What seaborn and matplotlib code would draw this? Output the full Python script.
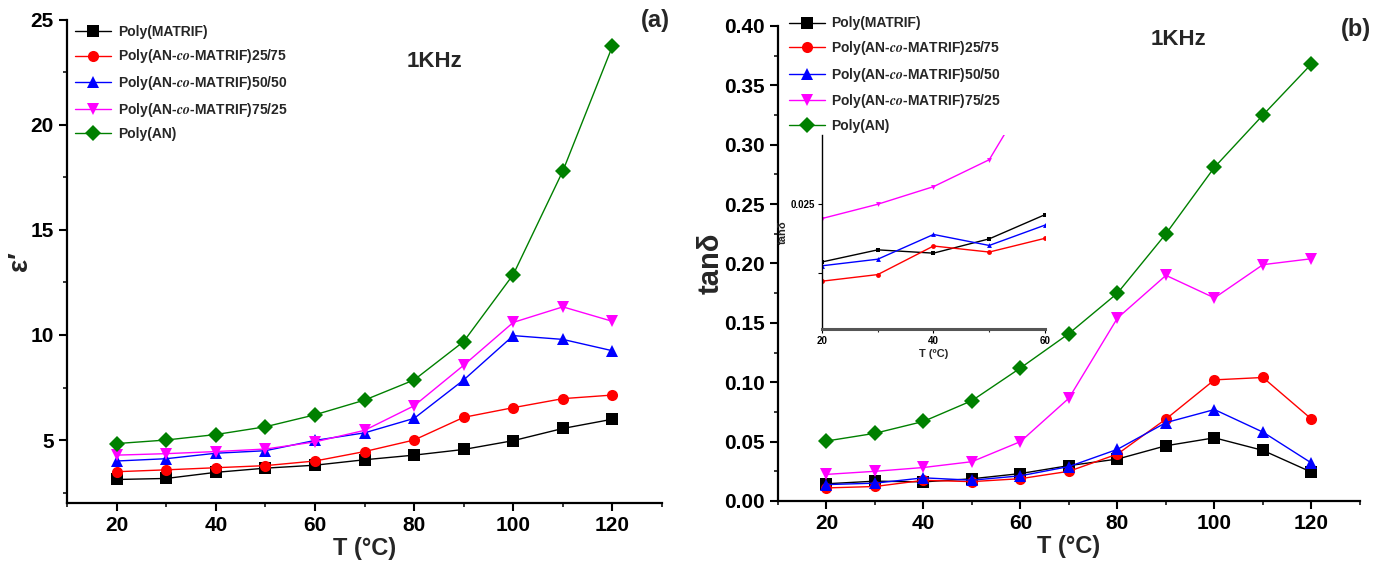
import numpy as np
import pandas as pd
import seaborn as sns
import matplotlib.pyplot as plt
from matplotlib.ticker import MultipleLocator

temps = [20, 30, 40, 50, 60, 70, 80, 90, 100, 110, 120]

names = [
    "Poly(MATRIF)",
    r"Poly(AN-$\mathit{co}$-MATRIF)25/75",
    r"Poly(AN-$\mathit{co}$-MATRIF)50/50",
    r"Poly(AN-$\mathit{co}$-MATRIF)75/25",
    "Poly(AN)",
]
colors = ["black", "#ff0000", "#0000ff", "#ff00ff", "#008000"]
markers = ["s", "o", "^", "v", "D"]

# dielectric constant at 1 kHz
eps_matrif = [3.12, 3.17, 3.46, 3.66, 3.80, 4.06, 4.28, 4.55, 4.97, 5.55, 5.99]
eps_2575 = [3.49, 3.58, 3.68, 3.78, 4.00, 4.45, 5.00, 6.08, 6.54, 6.97, 7.14]
eps_5050 = [4.00, 4.11, 4.37, 4.49, 4.98, 5.34, 6.03, 7.86, 9.97, 9.79, 9.25]
eps_7525 = [4.28, 4.35, 4.45, 4.57, 4.91, 5.46, 6.63, 8.56, 10.60, 11.34, 10.65]
eps_an = [4.83, 5.00, 5.26, 5.63, 6.20, 6.90, 7.86, 9.69, 12.88, 17.81, 23.75]

# loss tangent at 1 kHz
tan_matrif = [0.0145, 0.0167, 0.0161, 0.0187, 0.0231, 0.0298, 0.0353, 0.0465, 0.0532, 0.0426, 0.0243]
tan_2575 = [0.0110, 0.0122, 0.0174, 0.0163, 0.0188, 0.0250, 0.0395, 0.0690, 0.1020, 0.1040, 0.0690]
tan_5050 = [0.0138, 0.0150, 0.0195, 0.0175, 0.0212, 0.0290, 0.0435, 0.0660, 0.0770, 0.0580, 0.0320]
tan_7525 = [0.0224, 0.0250, 0.0282, 0.0331, 0.0500, 0.0866, 0.1540, 0.1900, 0.1710, 0.1990, 0.2040]
tan_an = [0.0505, 0.0570, 0.0670, 0.0845, 0.1120, 0.1410, 0.1750, 0.2250, 0.2810, 0.3250, 0.3680]

eps_all = [eps_matrif, eps_2575, eps_5050, eps_7525, eps_an]
tan_all = [tan_matrif, tan_2575, tan_5050, tan_7525, tan_an]

sns.set_theme(style="ticks")
plt.rcParams["font.family"] = ["Liberation Sans Narrow", "Liberation Sans", "DejaVu Sans"]
plt.rcParams["font.weight"] = "bold"
plt.rcParams["mathtext.fontset"] = "stix"

fig = plt.figure(figsize=(13.85, 5.65), dpi=100)
ax1 = fig.add_axes([0.0484, 0.1097, 0.4296, 0.855])
ax2 = fig.add_axes([0.5617, 0.1133, 0.4202, 0.8407])
axin = fig.add_axes([0.5935, 0.4177, 0.161, 0.3434])


def draw(ax, data, ms, lw):
    for name, vals, c, m in zip(names, data, colors, markers):
        df = pd.DataFrame({"T": temps, "v": vals})
        sns.lineplot(data=df, x="T", y="v", color=c, marker=m, markersize=ms,
                     markeredgewidth=0, linewidth=lw, label=name, ax=ax)


def style_axis(ax, lab):
    for s in ["top", "right"]:
        ax.spines[s].set_visible(False)
    for s in ["left", "bottom"]:
        ax.spines[s].set_linewidth(1.6)
        ax.spines[s].set_color("black")
    ax.set_xlim(10, 130)
    ax.xaxis.set_major_locator(MultipleLocator(20))
    ax.xaxis.set_minor_locator(MultipleLocator(10))
    ax.tick_params(which="major", direction="out", length=6, width=1.5,
                   labelsize=15, colors="black")
    ax.tick_params(which="minor", direction="out", length=3, width=1.3)
    for t in ax.get_xticklabels() + ax.get_yticklabels():
        t.set_fontweight("bold")
    ax.set_xlabel("T (°C)", fontsize=17, fontweight="bold", labelpad=1)
    ax.legend(loc="upper left", frameon=False, handlelength=2.6,
              handletextpad=0.45, labelspacing=0.62, borderpad=0, borderaxespad=0,
              bbox_to_anchor=lab, prop={"weight": "bold", "size": 10})


# panel (a)
draw(ax1, eps_all, 8, 1.0)
ax1.set_ylim(2, 25)
ax1.yaxis.set_minor_locator(MultipleLocator(2.5))
ax1.set_yticks([5, 10, 15, 20, 25])
style_axis(ax1, (0.014, 0.99))
ax1.set_ylabel("ε′", fontsize=20, fontweight="bold",
               family=["Liberation Sans", "DejaVu Sans"])
ax1.yaxis.set_label_coords(-0.057, 0.5)
ax1.text(84, 23.0, "1KHz", fontsize=16, fontweight="bold", ha="center", va="center")
fig.text(0.473, 0.963, "(a)", fontsize=17, fontweight="bold", ha="center", va="center")

# panel (b)
draw(ax2, tan_all, 8, 1.0)
ax2.set_ylim(0, 0.40)
ax2.yaxis.set_major_locator(MultipleLocator(0.05))
ax2.yaxis.set_minor_locator(MultipleLocator(0.025))
ax2.yaxis.set_major_formatter(plt.FormatStrFormatter("%.2f"))
style_axis(ax2, (0.019, 1.02))
ax2.set_ylabel("tanδ", fontsize=21, fontweight="bold",
               family=["Liberation Sans", "DejaVu Sans"])
ax2.yaxis.set_label_coords(-0.092, 0.5)
ax2.text(92.5, 0.389, "1KHz", fontsize=16, fontweight="bold", ha="center", va="center")
fig.text(0.979, 0.947, "(b)", fontsize=17, fontweight="bold", ha="center", va="center")

# inset of (b)
for vals, c, m in zip(tan_all[:4], colors[:4], markers[:4]):
    df = pd.DataFrame({"T": temps[:5], "v": vals[:5]})
    sns.lineplot(data=df, x="T", y="v", color=c, marker=m, markersize=3.5,
                 markeredgewidth=0, linewidth=1.0, ax=axin, legend=False)
axin.set_facecolor("none")
axin.set_xlim(20, 60)
axin.set_ylim(0.0023, 0.0376)
axin.set_xticks([20, 40, 60])
axin.xaxis.set_minor_locator(MultipleLocator(10))
axin.set_yticks([0.0125, 0.025])
axin.set_yticklabels(["", "0.025"])
for s in ["top", "right"]:
    axin.spines[s].set_visible(False)
axin.spines["left"].set_linewidth(1.0)
axin.spines["left"].set_color("black")
axin.spines["bottom"].set_linewidth(2.2)
axin.spines["bottom"].set_color("#555555")
axin.tick_params(which="major", direction="out", length=3, width=0.8, labelsize=7,
                 colors="black", pad=2)
axin.tick_params(which="minor", direction="out", length=2, width=0.8)
for t in axin.get_xticklabels() + axin.get_yticklabels():
    t.set_fontweight("bold")
axin.set_xlabel("T (ºC)", fontsize=8, fontweight="bold", labelpad=2)
axin.set_ylabel("tanδ", fontsize=8, fontweight="bold", labelpad=2,
                family=["Liberation Sans", "DejaVu Sans"])

plt.savefig("out.png", dpi=100)
